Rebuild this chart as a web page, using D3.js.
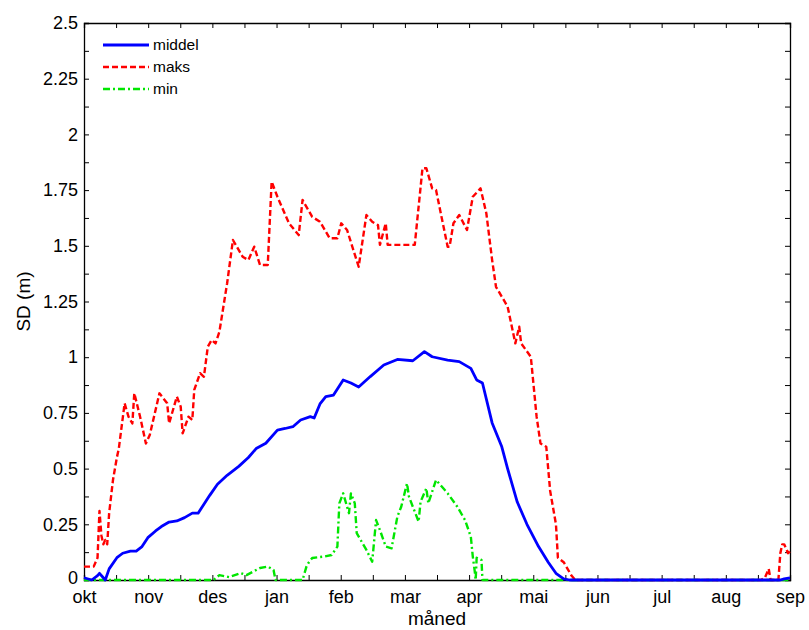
<!DOCTYPE html>
<html>
<head>
<meta charset="utf-8">
<script src="https://cdn.jsdelivr.net/npm/d3@7"></script>
<style>
  body { margin: 0; background: #fff; }
  text { font-family: "Liberation Sans", Arial, sans-serif; fill: #000; }
</style>
</head>
<body>
<div id="chart"></div>
<script>
// month labels, every other x tick carries one
const months = ["okt", "nov", "des", "jan", "feb", "mar", "apr", "mai", "jun", "jul", "aug", "sep"];
const yTicks = [0, 0.25, 0.5, 0.75, 1, 1.25, 1.5, 1.75, 2, 2.25, 2.5];

// [day of hydrological year, snow depth in m]
const middel = [
  [0, 0.01], [4, 0.0], [7, 0.02], [8, 0.03], [10, 0.01], [11, 0.0], [13, 0.05], [17, 0.1],
  [20, 0.12], [24, 0.13], [27, 0.13], [30, 0.15], [33, 0.19], [37, 0.22], [40, 0.24], [44, 0.26],
  [48, 0.265], [52, 0.28], [56, 0.3], [59, 0.3], [62, 0.34], [65, 0.38], [69, 0.43], [74, 0.47],
  [80, 0.51], [85, 0.55], [89, 0.59], [94, 0.614], [100, 0.673], [104, 0.68], [108, 0.688],
  [112, 0.718], [117, 0.733], [119, 0.727], [122, 0.79], [125, 0.823], [129, 0.83], [134, 0.898],
  [138, 0.884], [142, 0.866], [148, 0.913], [155, 0.965], [162, 0.99], [170, 0.984], [176, 1.025],
  [180, 1.002], [188, 0.987], [194, 0.98], [200, 0.95], [203, 0.898], [206, 0.884], [211, 0.705],
  [216, 0.598], [219, 0.5], [224, 0.35], [229, 0.25], [235, 0.15], [240, 0.08], [244, 0.03],
  [248, 0.005], [251, 0], [360, 0], [362, 0.005], [365, 0.01]
];

const maks = [
  [0, 0.06], [5, 0.06], [7, 0.1], [8, 0.31], [9, 0.2], [10, 0.16], [11, 0.18], [12, 0.16],
  [13, 0.3], [15, 0.45], [17, 0.55], [18, 0.59], [21, 0.793], [23, 0.733], [25, 0.703], [26, 0.838],
  [29, 0.733], [32, 0.613], [34, 0.651], [39, 0.838], [43, 0.793], [44, 0.703], [48, 0.823],
  [50, 0.778], [51, 0.658], [54, 0.733], [56, 0.718], [57, 0.853], [60, 0.928], [62, 0.912],
  [64, 1.047], [66, 1.077], [68, 1.062], [70, 1.114], [74, 1.332], [77, 1.526], [82, 1.451],
  [85, 1.436], [88, 1.496], [91, 1.414], [95, 1.414], [97, 1.788], [100, 1.72], [106, 1.601],
  [111, 1.548], [113, 1.706], [114, 1.69], [118, 1.63], [122, 1.608], [127, 1.534], [131, 1.534],
  [133, 1.601], [136, 1.571], [142, 1.406], [146, 1.638], [149, 1.608], [152, 1.593], [153, 1.504],
  [156, 1.601], [157, 1.504], [171, 1.504], [175, 1.848], [177, 1.848], [180, 1.758], [182, 1.75],
  [188, 1.496], [189, 1.496], [191, 1.601], [194, 1.638], [198, 1.571], [201, 1.72], [205, 1.758],
  [208, 1.646], [211, 1.436], [213, 1.316], [217, 1.257], [219, 1.227], [223, 1.062], [225, 1.137],
  [226, 1.062], [231, 1.002], [234, 0.733], [236, 0.613], [239, 0.598], [241, 0.4], [244, 0.25],
  [245, 0.1], [248, 0.08], [250, 0.05], [252, 0.02], [254, 0], [350, 0], [352, 0.01], [354, 0.05],
  [355, 0], [359, 0], [360, 0.12], [361, 0.16], [362, 0.16], [364, 0.12], [365, 0.13]
];

const min = [
  [0, 0], [67, 0], [70, 0.022], [75, 0.013], [81, 0.031], [84, 0.022], [91, 0.054], [95, 0.06],
  [98, 0.045], [99, 0], [113, 0], [115, 0.06], [116, 0.076], [118, 0.099], [124, 0.105],
  [128, 0.112], [131, 0.15], [132, 0.344], [134, 0.389], [136, 0.329], [137, 0.3], [138, 0.389],
  [140, 0.344], [141, 0.21], [146, 0.135], [149, 0.082], [151, 0.269], [153, 0.224], [156, 0.15],
  [159, 0.142], [162, 0.284], [164, 0.329], [167, 0.434], [168, 0.374], [170, 0.329], [173, 0.262],
  [174, 0.351], [177, 0.412], [178, 0.344], [182, 0.449], [188, 0.389], [193, 0.329], [197, 0.269],
  [200, 0.194], [201, 0.105], [202, 0.04], [202.5, 0], [203, 0.1], [205.5, 0.09], [206, 0], [365, 0]
];

const margin = {top: 23, right: 19, bottom: 50, left: 84},
      width = 809 - margin.left - margin.right,
      height = 630 - margin.top - margin.bottom;

const svg = d3.select("#chart")
              .append("svg")
                .attr("width", 809)
                .attr("height", 630)
              .append("g")
                .attr("transform", `translate(${margin.left},${margin.top})`);

const xScale = d3.scaleLinear().domain([0, 365]).range([0, width]);
const yScale = d3.scaleLinear().domain([0, 2.5]).range([height, 0]);

const xTickVals = d3.range(23).map(i => i * 365 / 22);
const yMinor = d3.range(21).map(i => i * 0.125);

// axes, ticks pointing inwards like matlab
svg.append("g")
   .attr("transform", `translate(0,${height})`)
   .call(d3.axisBottom(xScale).tickValues(xTickVals).tickSize(-5).tickPadding(10)
          .tickFormat((d, i) => i % 2 === 0 ? months[i / 2] : ""))
   .call(g => g.selectAll("text").style("font-size", "18px"));

svg.append("g")
   .call(d3.axisTop(xScale).tickValues(xTickVals).tickSize(-5).tickFormat(""));

svg.append("g")
   .call(d3.axisLeft(yScale).tickValues(yMinor).tickSize(-5).tickPadding(6)
          .tickFormat(d => yTicks.includes(d) ? d3.format("")(d) : ""))
   .call(g => g.selectAll("text").style("font-size", "18px"))
   .call(g => g.selectAll(".tick text").filter(d => d === 0).attr("dy", "0.2em"));

svg.append("g")
   .attr("transform", `translate(${width},0)`)
   .call(d3.axisRight(yScale).tickValues(yMinor).tickSize(-5).tickFormat(""));

svg.selectAll(".domain").attr("stroke", "#000").attr("stroke-width", 1.3);
svg.selectAll(".tick line").attr("stroke", "#000");

// axis titles
svg.append("text")
   .attr("x", width / 2)
   .attr("y", height + 45)
   .attr("text-anchor", "middle")
   .style("font-size", "19px")
   .text("måned");

svg.append("text")
   .attr("transform", `translate(${-54},${height / 2}) rotate(-90)`)
   .attr("text-anchor", "middle")
   .style("font-size", "19px")
   .text("SD (m)");

const line = d3.line().x(d => xScale(d[0])).y(d => yScale(d[1]));

const series = [
  {name: "middel", data: middel, color: "#0000ff", dash: null, w: 2.8},
  {name: "maks", data: maks, color: "#ff0000", dash: "6,3", w: 2.4},
  {name: "min", data: min, color: "#00e600", dash: "7,3,2,3", w: 2.4}
];

// draw min first so the others sit on top
[series[2], series[1], series[0]].forEach(s => {
  svg.append("path")
     .datum(s.data)
     .attr("fill", "none")
     .attr("stroke", s.color)
     .attr("stroke-width", s.w)
     .attr("stroke-dasharray", s.dash)
     .attr("stroke-linejoin", "round")
     .attr("d", line);
});

// legend
const legend = svg.append("g").attr("transform", "translate(19,22)");
series.forEach((s, i) => {
  legend.append("line")
        .attr("x1", 0).attr("x2", 46)
        .attr("y1", i * 22).attr("y2", i * 22)
        .attr("stroke", s.color)
        .attr("stroke-width", s.w)
        .attr("stroke-dasharray", s.dash);
  legend.append("text")
        .attr("x", 50)
        .attr("y", i * 22 + 5)
        .style("font-size", "15.5px")
        .text(s.name);
});
</script>
</body>
</html>
